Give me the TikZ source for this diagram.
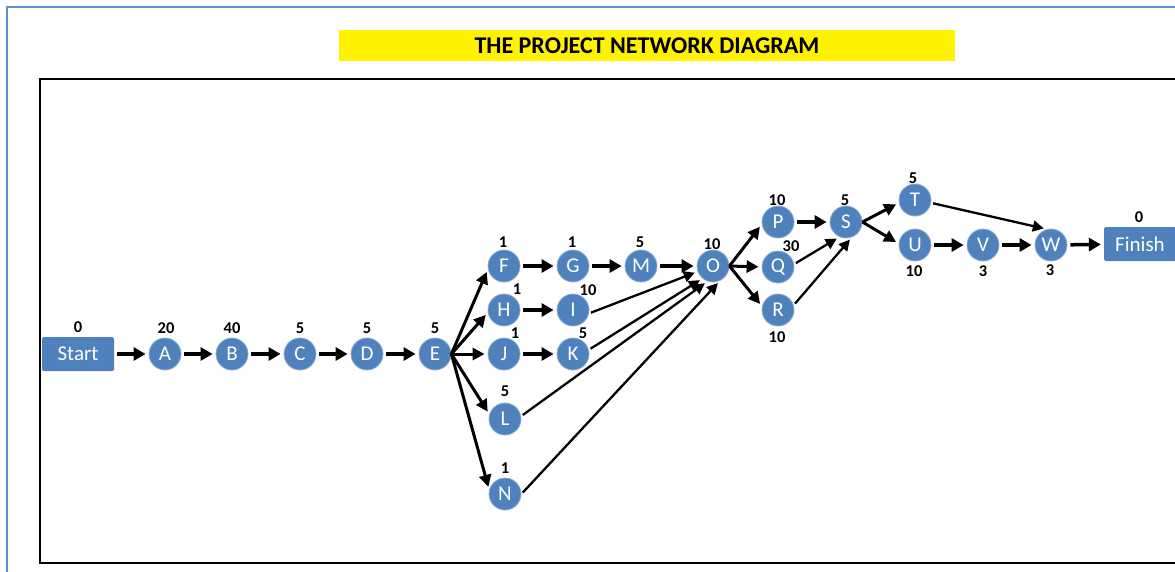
\documentclass[tikz,border=0pt]{standalone}
\usepackage{fontspec}
\setmainfont{Carlito}
\usetikzlibrary{arrows.meta}
\definecolor{nodeblue}{HTML}{4F81BD}
\definecolor{frameblue}{HTML}{5E8FD3}
\tikzset{
  act/.style={circle, minimum size=32pt, inner sep=0pt, fill=nodeblue, draw=nodeblue!65!white, line width=0.8pt, text=white, font=\fontsize{21}{24}\selectfont},
  endbox/.style={rectangle, minimum width=72pt, minimum height=34pt, inner sep=0pt, fill=nodeblue, rounded corners=1.5pt, text=white, font=\fontsize{21}{24}\selectfont},
  dur/.style={inner sep=0pt, font=\bfseries\fontsize{16.5}{19}\selectfont},
  arr/.style={line width=3.5pt, -{Triangle[length=12pt,width=13pt]}, shorten >=3pt, shorten <=3pt},
  farr/.style={line width=3pt, -{Triangle[length=12pt,width=12pt]}, shorten >=3pt},
  tarr/.style={line width=2.3pt, -{Triangle[length=11pt,width=11pt]}, shorten >=3pt, shorten <=2pt},
}
\begin{document}
\begin{tikzpicture}[x=1pt,y=-1pt]
\useasboundingbox (0,0) rectangle (1175,571);
\clip (0,0) rectangle (1175,571);
\draw[frameblue, line width=2pt] (6.5,7) rectangle (1200,600);
\draw[black, line width=2.5pt] (40,79) rectangle (1200,563);
\node[fill=yellow, minimum width=616pt, minimum height=31pt, inner sep=0pt, font=\bfseries\fontsize{24}{27}\selectfont] (title) at (647,45.5) {THE PROJECT NETWORK DIAGRAM};

% nodes
\node[endbox] (Start) at (78,354) {Start};
\node[act] (A) at (165,354) {A};
\node[act] (B) at (232,354) {B};
\node[act] (C) at (300,354) {C};
\node[act] (D) at (367,354) {D};
\node[act] (E) at (435,354) {E};
\node[act] (F) at (504,266) {F};
\node[act] (G) at (573,266) {G};
\node[act] (M) at (641,266) {M};
\node[act] (O) at (713,266) {O};
\node[act] (H) at (504,310) {H};
\node[act] (I) at (573,310) {I};
\node[act] (J) at (504,354) {J};
\node[act] (K) at (573,354) {K};
\node[act] (L) at (505,419) {L};
\node[act] (N) at (505,494) {N};
\node[act] (P) at (778,222) {P};
\node[act] (Q) at (778,267) {Q};
\node[act] (R) at (778,310) {R};
\node[act] (S) at (846,222) {S};
\node[act] (T) at (915,200) {T};
\node[act] (U) at (915,245) {U};
\node[act] (V) at (983,245) {V};
\node[act] (W) at (1051,245) {W};
\node[endbox] (Finish) at (1140,244) {Finish};

% durations
\node[dur] (dStart) at (78,327) {0};
\node[dur] (dA) at (166,328) {20};
\node[dur] (dB) at (232,328) {40};
\node[dur] (dC) at (300,328) {5};
\node[dur] (dD) at (367,328) {5};
\node[dur] (dE) at (435,328) {5};
\node[dur] (dF) at (503,242) {1};
\node[dur] (dG) at (572,242) {1};
\node[dur] (dM) at (640,242) {5};
\node[dur] (dO) at (712,244) {10};
\node[dur] (dH) at (517,289) {1};
\node[dur] (dI) at (588,290) {10};
\node[dur] (dJ) at (515,333) {1};
\node[dur] (dK) at (583,333) {5};
\node[dur] (dL) at (505,391) {5};
\node[dur] (dN) at (505,468) {1};
\node[dur] (dP) at (777,200) {10};
\node[dur] (dQ) at (791,246) {30};
\node[dur] (dR) at (777,337) {10};
\node[dur] (dS) at (845,200) {5};
\node[dur] (dT) at (913,178) {5};
\node[dur] (dU) at (914,271) {10};
\node[dur] (dV) at (983,271) {3};
\node[dur] (dW) at (1050,270) {3};
\node[dur] (dFinish) at (1139,217) {0};

% connectors
\draw[arr] (Start) -- (A);
\draw[arr] (A) -- (B);
\draw[arr] (B) -- (C);
\draw[arr] (C) -- (D);
\draw[arr] (D) -- (E);
\draw[farr] (E.east) -- (F.191);
\draw[farr] (E.east) -- (H.189);
\draw[farr] (E.east) -- (J.west);
\draw[farr] (E.east) -- (L.163);
\draw[farr] (E.east) -- (N.165);
\draw[arr] (F) -- (G);
\draw[arr] (G) -- (M);
\draw[arr] (M) -- (O);
\draw[arr] (H) -- (I);
\draw[arr] (J) -- (K);
\draw[tarr] (I.-12) -- (O.200);
\draw[tarr] (K.15) -- (O.230);
\draw[tarr] (L.10) -- (O.250);
\draw[tarr] (N.0) -- (O.295);
\draw[farr] (O.east) -- (P.188);
\draw[farr] (O.east) -- (Q.west);
\draw[farr] (O.east) -- (R.167);
\draw[arr] (P) -- (S);
\draw[tarr] (Q.10) -- (S.246);
\draw[tarr] (R.17) -- (S.291);
\draw[farr] (S.east) -- (T.190);
\draw[farr] (S.east) -- (U.175);
\draw[tarr] (T.-10) -- (W.105);
\draw[arr] (U) -- (V);
\draw[arr] (V) -- (W);
\draw[arr] (W) -- (Finish);
\end{tikzpicture}
\end{document}
